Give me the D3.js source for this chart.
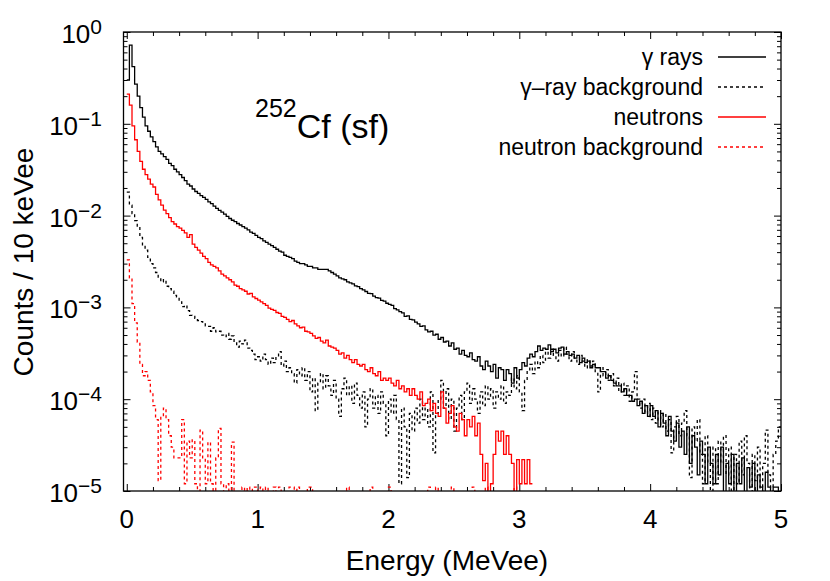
<!DOCTYPE html>
<html>
<head>
<meta charset="utf-8">
<script src="https://cdn.jsdelivr.net/npm/d3@7"></script>
<style>
  body { margin: 0; background: #fff; }
  text { font-family: "Liberation Sans", Arial, Helvetica, sans-serif; fill: #000; }
</style>
</head>
<body>
<svg id="chart" width="830" height="581"></svg>
<script>
// histogram bins, 20 keV wide starting at 0 MeVee
const binWidth = 0.02;

// counts / 10 keVee (0 = empty bin)
const gammaRays = [
  .30,.72,.42,.27,.20,.15,.118,.095,.083,.072,
  .064,.056,.050,.047,.044,.041,.037,.035,.032,.030,
  .028,.026,.024,.022,.021,.0195,.0183,.0175,.0165,.0158,
  .0150,.0141,.0135,.0127,.0120,.0114,.0109,.0104,.0098,.0093,
  .0089,.0086,.0082,.0079,.0076,.0073,.0070,.0066,.0064,.0061,
  .0058,.0056,.0053,.0051,.0049,.0047,.0045,.0043,.0041,.0040,
  .0037,.0036,.0035,.0034,.0032,.0031,.0030,.0030,.0029,.0028,
  .0028,.0027,.0027,.0026,.0026,.0026,.0026,.0025,.0024,.0023,
  .0022,.0021,.00205,.0020,.0019,.00185,.0018,.00172,.00168,.0016,
  .00155,.00149,.00142,.00141,.00133,.00128,.00126,.00119,.00117,.00111,
  .00108,.00105,.00097,.00094,.0009,.00087,.0008,.00081,.00074,.00073,
  .00069,.00066,.00062,.00063,.00057,.00054,.00055,.0005,.00051,.00045,
  .00047,.00042,.00043,.00038,.00041,.00035,.00036,.00031,.00034,.0003,
  .00029,.00032,.00027,.00026,.00029,.00023,.00021,.00026,.00023,.0002,
  .00024,.00017,.00022,.00021,.00016,.00021,.00019,.00015,.00022,.00017,
  .00021,.00025,.00023,.00028,.00031,.00029,.00033,.00038,.00034,.00036,
  .00035,.00039,.00033,.00035,.00032,.00036,.00037,.00031,.00033,.0003,
  .00031,.00028,.0003,.00025,.00028,.00025,.00026,.00022,.00024,.00022,
  .00022,.0002,.0002,.00017,.00018,.00016,.00015,.00014,.00014,.00012,
  .00013,.00011,.00011,9.5e-5,.0001,8.5e-5,9.5e-5,7e-5,8.5e-5,6.5e-5,
  8.5e-5,6.5e-5,7.5e-5,5e-5,7e-5,5.5e-5,4e-5,6.5e-5,4.5e-5,3.5e-5,
  5.5e-5,3e-5,4.5e-5,2.5e-5,5e-5,2e-5,4e-5,3e-5,1.5e-5,3.5e-5,
  2.5e-5,1.2e-5,3e-5,2e-5,1.2e-5,2.5e-5,1.5e-5,3e-5,0,2e-5,
  1.2e-5,2.5e-5,0,2e-5,1.2e-5,2.3e-5,0,1.8e-5,1.1e-5,2e-5,
  0,1.5e-5,1.1e-5,0,1.6e-5,1.1e-5,0,1.1e-5,1.1e-5,0
];

const gammaBackground = [
  .018,.013,.0105,.0088,.0075,.0058,.0047,.0042,.0035,.0030,
  .0027,.0024,.0021,.0019,.0020,.0017,.0016,.0015,.00135,.0013,
  .00115,.00102,.00105,.00092,.00082,.0008,.00076,.00072,.0007,.00066,
  .00063,.00062,.00055,.0006,.00054,.00055,.0005,.00048,.00052,.00045,
  .00049,.00042,.00037,.00043,.0004,.00044,.00036,.00034,.00031,.00027,
  .00029,.00026,.00031,.00027,.00024,.00028,.00025,.00029,.00033,.00023,
  .00026,.0002,.00022,.00019,.00015,.00021,.00018,.00022,.00016,.0002,
  .00012,.00017,7.5e-5,.00015,.00019,.00013,.00018,.00014,.00011,.00016,
  .0001,6.5e-5,.00013,.00017,.00011,.00014,9e-5,.00015,.00011,8e-5,
  .00012,5e-5,.0001,.00013,8e-5,.00011,7e-5,.00012,9e-5,4e-5,
  .0001,7e-5,.00011,6e-5,1.2e-5,8e-5,5e-5,1.4e-5,7e-5,4.5e-5,
  8e-5,5.5e-5,.0001,6e-5,8e-5,5e-5,.00012,2.6e-5,7e-5,.0001,
  .00016,8e-5,.00013,6e-5,.0001,4.5e-5,8e-5,.00011,6e-5,.00012,
  .00015,9e-5,.00013,.0001,7e-5,.00012,8.5e-5,.00014,.0001,.00013,
  8e-5,.00012,.0001,.00014,9e-5,.00012,.00011,.00017,.00013,.00018,
  .00012,7.5e-5,.00016,.0002,.00024,.00019,.00026,.00022,.0003,.00025,
  .00033,.00028,.00035,.0003,.00026,.00034,.00029,.00037,.00031,.00026,
  .00033,.00028,.00024,.0003,.00026,.00022,.00027,.00023,.00026,.0002,
  .00012,.00022,.00018,.00021,.00016,.00019,.00014,.00017,.00012,.00015,
  .00011,.00014,9.5e-5,.00012,.0002,.0001,8e-5,.0001,7e-5,9e-5,
  6e-5,8e-5,5.5e-5,7.5e-5,5e-5,7e-5,4.5e-5,6e-5,2.6e-5,5e-5,
  6.5e-5,4e-5,5.5e-5,7.5e-5,4e-5,1.4e-5,5e-5,3.5e-5,6e-5,2.5e-5,
  1.2e-5,4e-5,2e-5,0,3e-5,1.2e-5,3.5e-5,2e-5,4e-5,1.5e-5,
  3e-5,0,2.5e-5,1.2e-5,3.5e-5,1.5e-5,4e-5,2e-5,0,2.5e-5,
  1.3e-5,3e-5,0,2e-5,4.6e-5,1.5e-5,0,2.5e-5,3.5e-5,5e-5
];

const neutrons = [
  .21,.16,.095,.067,.050,.039,.032,.028,.025,.022,
  .0205,.017,.0148,.013,.0115,.0105,.0095,.0086,.0081,.0076,
  .0073,.0069,.0065,.0058,.0062,.0049,.0045,.0042,.0039,.0036,
  .0034,.0031,.0029,.0028,.0027,.0025,.0023,.0022,.0021,.0020,
  .0019,.00175,.0017,.0016,.00155,.0015,.0014,.00142,.0013,.00125,
  .0012,.00115,.0011,.00105,.00098,.00095,.00093,.00088,.00086,.0008,
  .00078,.00074,.0007,.00072,.00066,.00063,.0006,.00061,.00055,.00054,
  .00052,.00049,.00046,.00047,.00043,.00041,.00044,.00038,.00037,.00036,
  .00034,.00031,.00032,.00028,.0003,.00027,.00025,.00027,.00024,.00023,
  .00024,.00021,.0002,.00022,.00019,.00018,.0002,.00016,.00017,.00016,
  .00017,.00015,.00014,.00016,.00013,.00014,.00012,.00013,.00011,.00013,
  .00011,.0001,.00012,8.5e-5,9e-5,.0001,7.5e-5,9e-5,7e-5,6.5e-5,
  .00012,8e-5,5.5e-5,7e-5,8.5e-5,5e-5,4.5e-5,7e-5,6e-5,4e-5,
  6e-5,5e-5,6.5e-5,4e-5,5.5e-5,2.5e-5,1.3e-5,2e-5,0,1.2e-5,
  2.5e-5,4.5e-5,3.5e-5,4.5e-5,2.5e-5,4e-5,2.5e-5,2e-5,0,2.2e-5,
  1.2e-5,2.2e-5,1.2e-5,2.2e-5,1.2e-5
];

const neutronBackground = [
  .0033,.0021,.0011,.00068,.00042,.00024,.00018,.0002,.00016,.00012,
  8.5e-5,6e-5,1.3e-5,6.5e-5,8e-5,6e-5,4e-5,3e-5,2.3e-5,2.3e-5,
  2.3e-5,6e-5,1.2e-5,3.5e-5,2.3e-5,3.6e-5,1.2e-5,0,4.6e-5,2.3e-5,
  1.2e-5,3.4e-5,1.2e-5,0,2.3e-5,4.8e-5,1.2e-5,0,1.2e-5,0,
  3.4e-5,0,0,0,1.1e-5,0,1.1e-5,0,1.1e-5,1.1e-5,
  0,1.1e-5,0,1.1e-5,0,0,1.1e-5,0,1.1e-5,0,
  0,0,1.1e-5,1.1e-5,0,1.1e-5,0,0,0,1.1e-5,
  1.1e-5,0,0,0,0,0,0,0,0,0,
  0,0,0,0,1.1e-5,0,0,0,0,0,
  0,0,0,1.1e-5,0,0,0,0,0,0,
  1.1e-5,0,0,0,0,0,0,0,0,0,
  0,0,0,0,0,1.1e-5,0,0,1.1e-5,0,
  0,0,0,0,1.1e-5,0,0,0,0,0,
  0,0,1.1e-5,0,0,0,0,1.1e-5,0,0,
  0,0,0,0,0,0,0,0,1.1e-5,0
];

const seriesLabels = ["γ rays", "γ–ray background", "neutrons", "neutron background"];
const seriesColors = ["#000000", "#000000", "#ff0000", "#ff0000"];
const seriesDashed = [false, true, false, true];
const xTicks = [0, 1, 2, 3, 4, 5];
const yTickExps = [0, -1, -2, -3, -4, -5];

const W = 830, H = 581;
const margin = { top: 32, right: 49, bottom: 90, left: 123.5 };

const svg = d3.select("#chart");
svg.append("rect").attr("width", W).attr("height", H).attr("fill", "#fff");

const x = d3.scaleLinear().domain([-0.025, 5]).range([margin.left, W - margin.right]);
const y = d3.scaleLog().domain([1e-5, 1]).range([H - margin.bottom, margin.top]);
const x0 = margin.left, x1 = W - margin.right, y0 = H - margin.bottom, y1 = margin.top;

svg.append("clipPath").attr("id", "plotClip")
  .append("rect").attr("x", x0).attr("y", y1).attr("width", x1 - x0).attr("height", y0 - y1);

// ticks, inward on all four sides
const xMinor = d3.range(0.2, 5, 0.2).filter(v => Math.abs(v - Math.round(v)) > 1e-6);
const yMinor = [];
for (let e = -5; e < 0; e++) for (let m = 2; m <= 9; m++) yMinor.push(m * Math.pow(10, e));

function tickAxis(axis, tr, vals, size) {
  const g = svg.append("g").attr("transform", tr)
    .call(axis.tickValues(vals).tickSize(size).tickFormat(""));
  g.select(".domain").remove();
  g.selectAll("line").attr("stroke", "#000").attr("stroke-width", 1);
  return g;
}
const yMajorVals = yTickExps.map(e => Math.pow(10, e));
tickAxis(d3.axisBottom(x), `translate(0,${y0})`, xTicks, -7);
tickAxis(d3.axisBottom(x), `translate(0,${y0})`, xMinor, -4);
tickAxis(d3.axisTop(x), `translate(0,${y1})`, xTicks, -7);
tickAxis(d3.axisTop(x), `translate(0,${y1})`, xMinor, -4);
tickAxis(d3.axisLeft(y), `translate(${x0},0)`, yMajorVals, -7);
tickAxis(d3.axisLeft(y), `translate(${x0},0)`, yMinor, -4);
tickAxis(d3.axisRight(y), `translate(${x1},0)`, yMajorVals, -7);
tickAxis(d3.axisRight(y), `translate(${x1},0)`, yMinor, -4);

// tick labels
svg.append("g").selectAll("text").data(xTicks).join("text")
  .attr("x", d => x(d)).attr("y", 528)
  .attr("text-anchor", "middle").attr("font-size", 26)
  .text(d => d);

yTickExps.forEach(e => {
  const t = svg.append("text")
    .attr("x", 102).attr("y", y(Math.pow(10, e)) + 11)
    .attr("text-anchor", "end").attr("font-size", 26);
  t.append("tspan").text("10");
  t.append("tspan").attr("dy", -9).attr("font-size", 21)
    .text(e === 0 ? "0" : "−" + Math.abs(e));
});

// histograms
function histPoints(vals) {
  const pts = vals.map((v, i) => [i * binWidth, v]);
  pts.push([vals.length * binWidth, vals[vals.length - 1]]);
  return pts;
}
const stepLine = d3.line()
  .curve(d3.curveStepAfter)
  .x(d => x(d[0]))
  .y(d => d[1] > 0 ? y(d[1]) : y0 + 6);

const series = [gammaRays, gammaBackground, neutrons, neutronBackground];
const plot = svg.append("g").attr("clip-path", "url(#plotClip)");
[1, 0, 3, 2].forEach(i => {
  plot.append("path")
    .attr("d", stepLine(histPoints(series[i])))
    .attr("fill", "none")
    .attr("stroke", seriesColors[i])
    .attr("stroke-width", 1.3)
    .attr("stroke-dasharray", seriesDashed[i] ? "3,3" : null);
});

// frame
svg.append("rect")
  .attr("x", x0).attr("y", y1).attr("width", x1 - x0).attr("height", y0 - y1)
  .attr("fill", "none").attr("stroke", "#000").attr("stroke-width", 1.3);

// legend
const legendY = [57, 87, 117, 147];
seriesLabels.forEach((lab, i) => {
  svg.append("text")
    .attr("x", 703).attr("y", legendY[i] + 8)
    .attr("text-anchor", "end").attr("font-size", 23)
    .text(lab);
  svg.append("line")
    .attr("x1", 718).attr("x2", 766)
    .attr("y1", legendY[i]).attr("y2", legendY[i])
    .attr("stroke", seriesColors[i]).attr("stroke-width", 1.3)
    .attr("stroke-dasharray", seriesDashed[i] ? "3,3" : null);
});

// annotation
const ann = svg.append("text").attr("x", 255).attr("y", 138).attr("font-size", 34);
ann.append("tspan").attr("font-size", 25).attr("dy", -21).text("252");
ann.append("tspan").attr("dy", 21).text("Cf (sf)");

// axis titles
svg.append("text")
  .attr("x", 447).attr("y", 570)
  .attr("text-anchor", "middle").attr("font-size", 28)
  .text("Energy (MeVee)");
svg.append("text")
  .attr("transform", "translate(33,262) rotate(-90)")
  .attr("text-anchor", "middle").attr("font-size", 28)
  .text("Counts / 10 keVee");
</script>
</body>
</html>
